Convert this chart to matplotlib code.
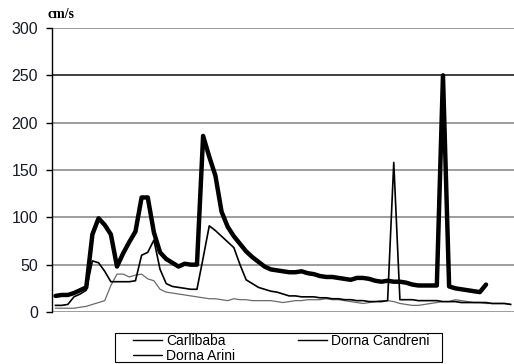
import numpy as np
import matplotlib
matplotlib.use("Agg")
import matplotlib.pyplot as plt
from matplotlib.patches import Rectangle

plt.rcParams['font.family'] = ['Liberation Sans', 'DejaVu Sans']

# daily velocities (cm/s) for the three stations
dorna_arini = [17, 18, 18, 20, 23, 26, 82, 99, 92, 82,
               48, 62, 74, 85, 121, 121, 84, 63, 56, 52,
               48, 51, 50, 50, 186, 164, 144, 106, 90, 80,
               72, 64, 58, 53, 48, 45, 44, 43, 42, 42,
               43, 41, 40, 38, 37, 37, 36, 35, 34, 36,
               36, 35, 33, 32, 33, 32, 32, 31, 29, 28,
               28, 28, 28, 250, 27, 25, 24, 23, 22, 21,
               29]
dorna_candreni = [7, 7, 8, 16, 19, 23, 54, 52, 43, 32,
                  32, 32, 32, 33, 60, 63, 76, 45, 30, 27,
                  26, 25, 24, 24, 57, 91, 86, 80, 74, 68,
                  50, 34, 30, 26, 24, 22, 21, 19, 17, 17,
                  16, 16, 16, 15, 15, 14, 14, 13, 13, 12,
                  12, 11, 11, 11, 12, 158, 13, 13, 13, 12,
                  12, 12, 12, 11, 11, 11, 10, 10, 10, 10,
                  10, 9, 9, 9, 8]
carlibaba = [4, 4, 4, 4, 5, 6, 8, 10, 12, 28,
             40, 40, 37, 39, 40, 35, 33, 24, 21, 20,
             19, 18, 17, 16, 15, 14, 14, 13, 12, 14,
             13, 13, 12, 12, 12, 12, 11, 10, 11, 12,
             12, 13, 13, 13, 14, 13, 13, 12, 11, 10,
             9, 10, 11, 12, 12, 11, 9, 8, 7, 7,
             8, 9, 10, 11, 11, 13, 12, 11, 10, 10,
             9, 9, 9, 9, 8]
y_ticks = [0, 50, 100, 150, 200, 250, 300]

fig = plt.figure(figsize=(5.14, 3.64), dpi=100)
ax = fig.add_axes([52 / 514, 1 - 312 / 364, 1 - 52 / 514, 284 / 364])

for t in y_ticks:
    ax.axhline(t, color='#202020' if t == 250 else '#8c8c8c', lw=1.2, zorder=1)

ax.plot(range(len(carlibaba)), carlibaba, color='#6a6a6a', lw=0.9,
        solid_joinstyle='round', label='Carlibaba', zorder=3)
ax.plot(range(len(dorna_arini)), dorna_arini, color='black', lw=3.2,
        solid_joinstyle='round', solid_capstyle='round', label='Dorna Arini', zorder=4)
ax.plot(range(len(dorna_candreni)), dorna_candreni, color='black', lw=1.2,
        solid_joinstyle='round', label='Dorna Candreni', zorder=3)

ax.set_xlim(-0.57, 74.55)
ax.set_ylim(0, 300)
ax.set_xticks([])
ax.set_yticks(y_ticks)
ax.tick_params(axis='y', length=4, width=1, color='black', pad=6,
               labelsize=11.5, labelcolor='#1a1a2a')
for s in ['top', 'right', 'bottom']:
    ax.spines[s].set_visible(False)
ax.spines['left'].set_linewidth(1.0)
ax.spines['left'].set_zorder(5)

fig.text(47 / 514, 1 - 14 / 364, 'cm/s', family='Liberation Serif',
         weight='bold', fontsize=10, va='center', ha='left')

# legend box, entries placed inside without their own frame
fig.patches.append(Rectangle((115 / 514, 1 - 362 / 364), 327 / 514, 29 / 364,
                             transform=fig.transFigure, fill=False,
                             edgecolor='black', lw=0.8))
leg = fig.legend(loc='upper left', bbox_to_anchor=(133 / 514, 1 - 334 / 364),
                 ncol=2, frameon=False, fontsize=10,
                 handlelength=2.1, handletextpad=0.3, columnspacing=4.5,
                 labelspacing=0.05, borderpad=0, borderaxespad=0)
for line in leg.get_lines():
    line.set_linewidth(1.0)
    line.set_color('black')

fig.savefig('out.png', dpi=100)
